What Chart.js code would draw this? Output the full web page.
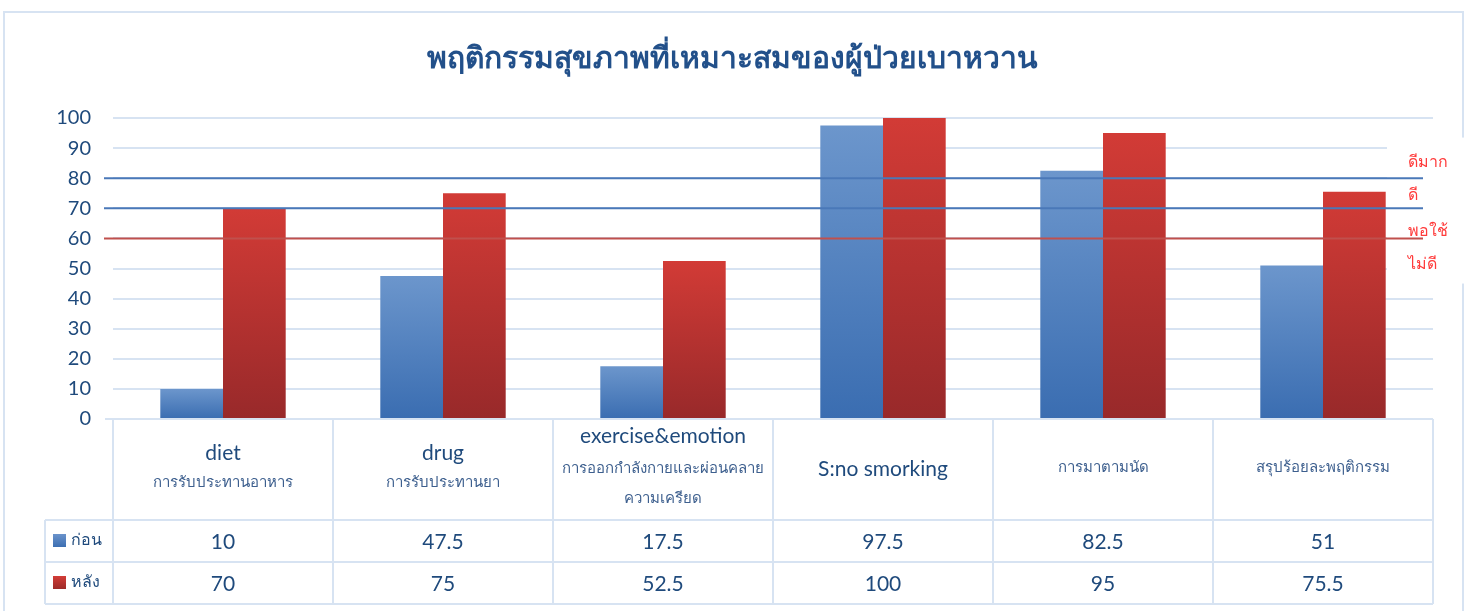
<!DOCTYPE html>
<html>
<head>
<meta charset="utf-8">
<script src="https://cdn.jsdelivr.net/npm/chart.js@4"></script>
<style>
  html, body { margin: 0; padding: 0; background: #fff; }
  #wrap { width: 1470px; height: 611px; }
</style>
</head>
<body>
<div id="wrap"><canvas id="myChart" width="1470" height="611"></canvas></div>
<script>
// data
const titleText = "พฤติกรรมสุขภาพที่เหมาะสมของผู้ป่วยเบาหวาน"
const catEnglish = ["diet", "drug", "exercise&emotion", "S:no smorking", "", ""]
const catThai = [
  ["การรับประทานอาหาร"],
  ["การรับประทานยา"],
  ["การออกกำลังกายและผ่อนคลาย", "ความเครียด"],
  [],
  ["การมาตามนัด"],
  ["สรุปร้อยละพฤติกรรม"]
]
const seriesNames = ["ก่อน", "หลัง"]
const before = [10, 47.5, 17.5, 97.5, 82.5, 51]
const after = [70, 75, 52.5, 100, 95, 75.5]
const yTicks = [0, 10, 20, 30, 40, 50, 60, 70, 80, 90, 100]
const levelLines = [80, 70, 60]
const levelNames = ["ดีมาก", "ดี", "พอใช้", "ไม่ดี"]

const latin = "Lato, 'Open Sans', 'Noto Sans', sans-serif"
const textBlue = "#1f4a7c"
const gridBlue = "#d7e3f2"

function barGradient(top, bottom) {
  return function(context) {
    const chart = context.chart
    if (!chart.chartArea || context.raw == null) return bottom
    const y = chart.scales.y
    const y0 = y.getPixelForValue(context.raw)
    const y1 = y.getPixelForValue(0)
    const g = chart.ctx.createLinearGradient(0, y0, 0, y1 + 0.01)
    g.addColorStop(0, top)
    g.addColorStop(1, bottom)
    return g
  }
}

const decor = {
  id: "decor",
  beforeDraw(chart) {
    const c = chart.ctx
    c.save()
    c.fillStyle = "#fff"
    c.fillRect(0, 0, chart.width, chart.height)
    c.strokeStyle = gridBlue
    c.lineWidth = 2
    c.strokeRect(4, 12, chart.width - 11, chart.height + 20)
    c.restore()
  },
  beforeDatasetsDraw(chart) {
    // white text box on the right hiding the grid
    const c = chart.ctx
    const y = chart.scales.y
    c.save()
    c.fillStyle = "#fff"
    c.fillRect(chart.chartArea.right - 46, y.getPixelForValue(93.5), 90, y.getPixelForValue(45) - y.getPixelForValue(93.5))
    c.restore()
  },
  afterDatasetsDraw(chart) {
    const c = chart.ctx
    const x = chart.scales.x
    const y = chart.scales.y
    const area = chart.chartArea
    c.save()
    // level lines
    const lineCols = ["#4a78b8", "#4a78b8", "#c0504d"]
    levelLines.forEach((v, i) => {
      c.strokeStyle = lineCols[i]
      c.lineWidth = 2
      c.beginPath()
      c.moveTo(area.left - 9, y.getPixelForValue(v))
      c.lineTo(area.right - 10, y.getPixelForValue(v))
      c.stroke()
    })
    // level names
    c.fillStyle = "#ff3b3b"
    c.font = "16px " + latin
    c.textAlign = "left"
    c.textBaseline = "middle"
    const lx = area.right - 25
    c.fillText(levelNames[0], lx, y.getPixelForValue(80) - 16)
    c.fillText(levelNames[1], lx, y.getPixelForValue(70) - 13)
    c.fillText(levelNames[2], lx, y.getPixelForValue(60) - 8)
    c.fillText(levelNames[3], lx, y.getPixelForValue(60) + 25)

    // data table
    const half = (x.getPixelForValue(1) - x.getPixelForValue(0)) / 2
    const top = area.bottom
    const hdrBot = top + 101
    const r1 = hdrBot + 42
    const r2 = r1 + 42
    const legLeft = 45
    c.strokeStyle = gridBlue
    c.lineWidth = 2
    c.beginPath()
    c.moveTo(area.left - 8, top); c.lineTo(area.right, top)
    c.moveTo(legLeft, hdrBot); c.lineTo(area.right, hdrBot)
    c.moveTo(legLeft, r1); c.lineTo(area.right, r1)
    c.moveTo(legLeft, r2); c.lineTo(area.right, r2)
    c.moveTo(legLeft, hdrBot); c.lineTo(legLeft, r2)
    for (let i = 0; i < before.length; i++) {
      const xl = x.getPixelForValue(i) - half
      c.moveTo(xl, top); c.lineTo(xl, r2)
    }
    c.moveTo(area.right, top); c.lineTo(area.right, r2)
    c.stroke()

    c.textAlign = "center"
    c.textBaseline = "middle"
    for (let i = 0; i < before.length; i++) {
      const cx = x.getPixelForValue(i)
      const th = catThai[i]
      const en = catEnglish[i]
      if (en && th.length === 2) {
        c.fillStyle = textBlue; c.font = "21px " + latin
        c.fillText(en, cx, top + 17)
        c.fillStyle = "#3d5f8e"; c.font = "15px " + latin
        c.fillText(th[0], cx, top + 49)
        c.fillText(th[1], cx, top + 79)
      } else if (en && th.length === 1) {
        c.fillStyle = textBlue; c.font = "21px " + latin
        c.fillText(en, cx, top + 34)
        c.fillStyle = "#3d5f8e"; c.font = "15px " + latin
        c.fillText(th[0], cx, top + 63)
      } else if (en) {
        c.fillStyle = textBlue; c.font = "21px " + latin
        c.fillText(en, cx, top + 50)
      } else {
        c.fillStyle = "#3d5f8e"; c.font = "15px " + latin
        c.fillText(th[0], cx, top + 48)
      }
      c.fillStyle = textBlue; c.font = "21px " + latin
      c.fillText(String(before[i]), cx, hdrBot + 22)
      c.fillText(String(after[i]), cx, r1 + 22)
    }
    // legend keys in the table
    const keyCols = [["#6a93cb", "#3d6fb2"], ["#d33c37", "#9c2b29"]]
    ;[hdrBot, r1].forEach((ry, i) => {
      const g = c.createLinearGradient(0, ry + 14, 0, ry + 27)
      g.addColorStop(0, keyCols[i][0]); g.addColorStop(1, keyCols[i][1])
      c.fillStyle = g
      c.fillRect(53, ry + 14, 13, 13)
      c.fillStyle = textBlue; c.font = "16px " + latin
      c.textAlign = "left"
      c.fillText(seriesNames[i], 71, ry + 20)
    })
    c.restore()
  }
}

const ctx = document.getElementById("myChart")
new Chart(ctx, {
  type: "bar",
  data: {
    labels: catEnglish.map((e, i) => e || catThai[i][0]),
    datasets: [{
      label: seriesNames[0],
      data: before,
      backgroundColor: barGradient("#6c96cc", "#3a6db1")
    }, {
      label: seriesNames[1],
      data: after,
      backgroundColor: barGradient("#d23b36", "#98292a")
    }]
  },
  options: {
    responsive: false,
    animation: false,
    categoryPercentage: 0.57,
    barPercentage: 1,
    layout: { padding: { left: 32, right: 37, top: 0, bottom: 184 } },
    plugins: {
      legend: { display: false },
      tooltip: { enabled: false },
      title: {
        display: true,
        text: titleText,
        color: "#22508a",
        font: { family: latin, size: 30, weight: "bold" },
        padding: { top: 40, bottom: 42 }
      }
    },
    scales: {
      x: {
        grid: { display: false },
        border: { display: false },
        ticks: { display: false }
      },
      y: {
        min: 0,
        max: 100,
        afterFit(s) { s.width = 81 },
        afterBuildTicks(s) { s.ticks = yTicks.map(v => ({ value: v })) },
        grid: { color: gridBlue, lineWidth: 2, drawTicks: false },
        border: { display: false },
        ticks: { color: textBlue, font: { family: latin, size: 20 }, padding: 22 }
      }
    }
  },
  plugins: [decor]
})
</script>
</body>
</html>
